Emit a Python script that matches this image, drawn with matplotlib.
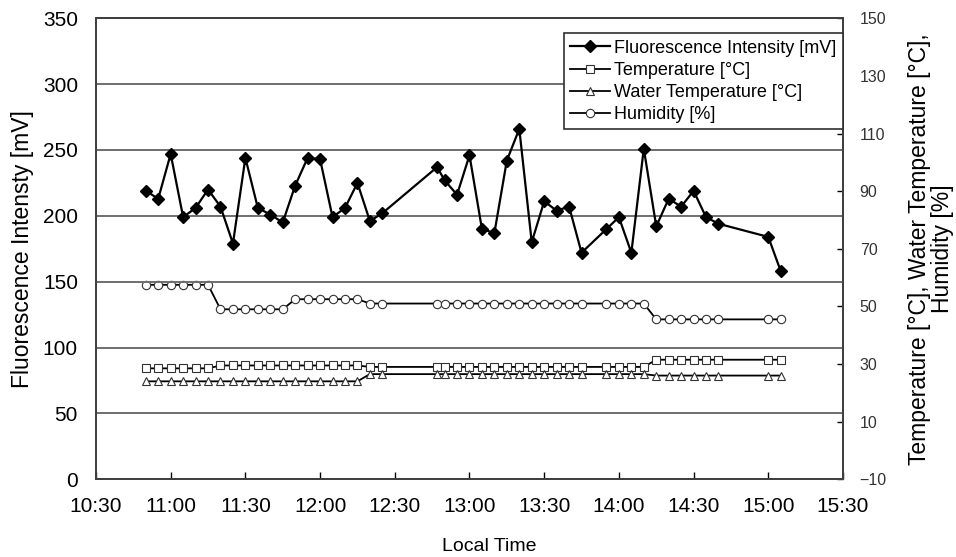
import matplotlib
matplotlib.use("Agg")
import matplotlib.pyplot as plt
from matplotlib.ticker import FuncFormatter, MultipleLocator, FixedLocator

plt.rcParams['font.family'] = ['Liberation Sans', 'DejaVu Sans']

# sampling times (local time)
times = ["10:50", "10:55", "11:00", "11:05", "11:10", "11:15", "11:20", "11:25",
         "11:30", "11:35", "11:40", "11:45", "11:50", "11:55", "12:00", "12:05",
         "12:10", "12:15", "12:20", "12:25",
         "12:47", "12:50", "12:55", "13:00", "13:05", "13:10", "13:15", "13:20",
         "13:25", "13:30", "13:35", "13:40", "13:45",
         "13:55", "14:00", "14:05", "14:10", "14:15", "14:20", "14:25", "14:30",
         "14:35", "14:40",
         "15:00", "15:05"]

fluorescence = [219, 213, 247, 199, 206, 220, 207, 179, 244, 206,
                201, 195, 223, 244, 243, 199, 206, 225, 196, 202,
                237, 227, 216, 246, 190, 187, 242, 266, 180, 211, 204, 207, 172,
                190, 199, 172, 251, 192, 213, 207, 219, 199, 194,
                184, 158]

temperature = [28.5] * 6 + [29.5] * 12 + [29] * 19 + [31.5] * 8
water_temp = [24] * 18 + [26.5] * 19 + [26] * 8
humidity = [57.5] * 6 + [49] * 6 + [52.5] * 6 + [51] * 19 + [45.5] * 8

right_ticks = list(range(-10, 151, 20))


def to_hours(t):
    h, m = t.split(":")
    return int(h) + int(m) / 60


x = [to_hours(t) for t in times]

fig = plt.figure(figsize=(9.56, 5.57), dpi=100)
ax = fig.add_axes([0.1004, 0.1395, 0.7814, 0.8277])
ax2 = ax.twinx()

ax.set_xlim(10.5, 15.5)
ax.set_ylim(0, 350)
ax2.set_ylim(-10, 150)

for y in range(50, 350, 50):
    ax.axhline(y, color="#6e6e6e", lw=1.4, zorder=0)

# fluorescence is plotted on the left scale, the rest on the right scale
ax.set_zorder(ax2.get_zorder() + 1)
ax.patch.set_visible(False)
l1, = ax.plot(x, fluorescence, color="black", lw=1.6,
              marker="D", ms=6, mfc="black", mec="black", zorder=5)
l2, = ax2.plot(x, temperature, color="black", lw=1.3, marker="s", ms=5.5,
               mfc="white", mec="#333333", mew=0.8)
l3, = ax2.plot(x, water_temp, color="black", lw=1.3, marker="^", ms=5.5,
               mfc="white", mec="#333333", mew=0.8)
l4, = ax2.plot(x, humidity, color="black", lw=1.3, marker="o", ms=6,
               mfc="white", mec="#333333", mew=0.8)

ax.xaxis.set_major_locator(MultipleLocator(0.5))
ax.xaxis.set_major_formatter(FuncFormatter(
    lambda v, p: "%d:%02d" % (int(v + 1e-6), round((v - int(v + 1e-6)) * 60))))
ax.yaxis.set_major_locator(MultipleLocator(50))
ax2.yaxis.set_major_locator(FixedLocator(right_ticks))
ax2.yaxis.set_major_formatter(FuncFormatter(lambda v, p: ("%d" % v).replace("-", "\u2212")))

ax.tick_params(axis="x", direction="in", length=5, width=1, labelsize=15, pad=13)
ax.tick_params(axis="y", direction="in", length=0, labelsize=15, pad=13)
ax2.tick_params(axis="y", direction="in", length=4, width=1, labelsize=11.5,
                pad=12, labelcolor="#333333")

for a in (ax, ax2):
    for s in a.spines.values():
        s.set_color("#404040")
        s.set_linewidth(1.4)

ax.set_xlabel("Local Time", fontsize=14)
ax.xaxis.set_label_coords(0.527, -0.128)
ax.set_ylabel("Fluorescence Intensty [mV]", fontsize=16.5, labelpad=6)
ax2.set_ylabel("Temperature [°C], Water Temperature [°C],\nHumidity [%]",
               fontsize=16.5, labelpad=15, linespacing=1.0)

leg = ax.legend([l1, l2, l3, l4],
                ["Fluorescence Intensity [mV]", "Temperature [°C]",
                 "Water Temperature [°C]", "Humidity [%]"],
                loc="upper right", bbox_to_anchor=(1.0, 0.967), fontsize=13,
                frameon=True, fancybox=False, framealpha=1, edgecolor="#303030",
                handlelength=2.2, handletextpad=0.25, labelspacing=0.28,
                borderpad=0.35, borderaxespad=0)
leg.get_frame().set_linewidth(1.2)

fig.savefig("out.png", dpi=100)
